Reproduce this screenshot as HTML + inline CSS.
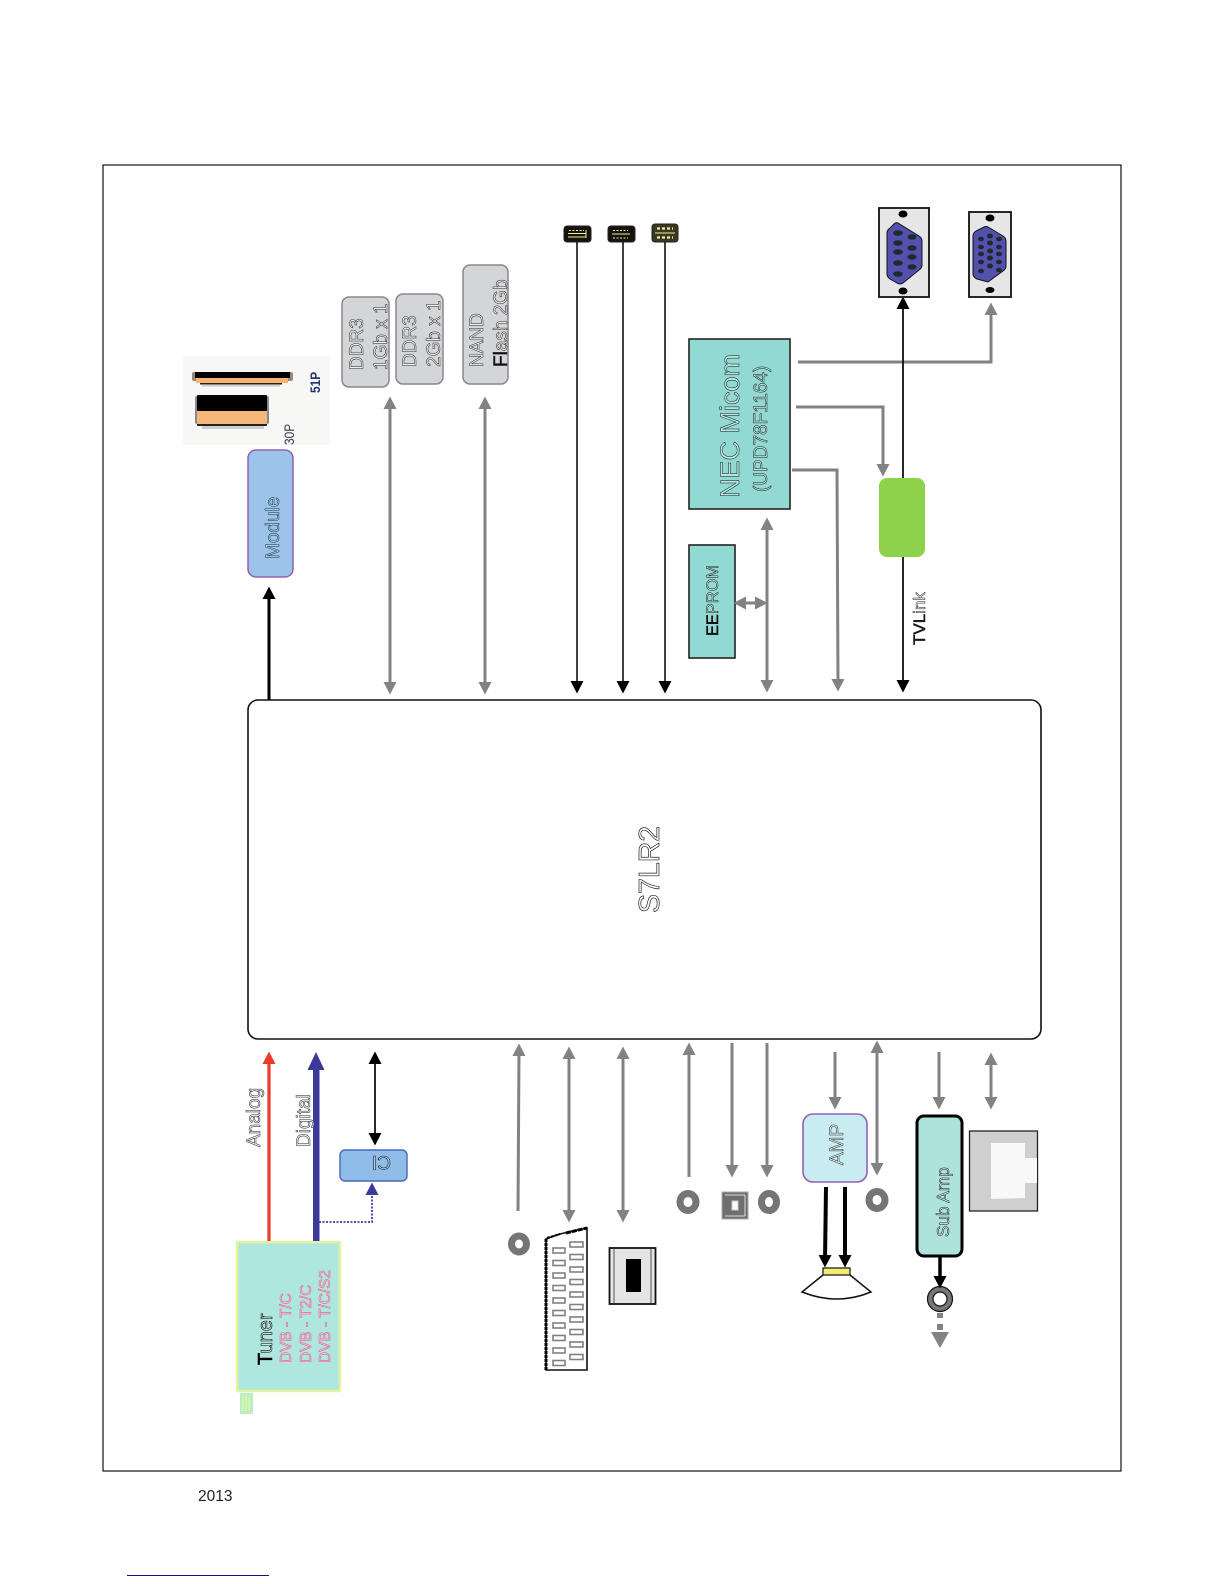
<!DOCTYPE html>
<html><head><meta charset="utf-8"><style>
html,body{margin:0;padding:0;background:#fff}
svg{display:block}
text{font-family:"Liberation Sans",sans-serif}
.o{stroke:#222;stroke-width:.5;fill:#eef0f0}
</style></head><body>
<svg width="1224" height="1584" viewBox="0 0 1224 1584" xmlns="http://www.w3.org/2000/svg">
<defs>
<marker id="g" markerUnits="userSpaceOnUse" markerWidth="13" markerHeight="13" refX="6" refY="6.500" orient="auto-start-reverse"><path d="M0,0L12.500,6.500L0,13z" fill="#808285"/></marker>
<marker id="k" markerUnits="userSpaceOnUse" markerWidth="13" markerHeight="13" refX="6" refY="6.500" orient="auto-start-reverse"><path d="M0,0L12.500,6.500L0,13z" fill="#000"/></marker>
<marker id="r" markerUnits="userSpaceOnUse" markerWidth="13" markerHeight="13" refX="6" refY="6.500" orient="auto"><path d="M0,0L12.500,6.500L0,13z" fill="#ea3a2a"/></marker>
<marker id="b" markerUnits="userSpaceOnUse" markerWidth="13" markerHeight="13" refX="6" refY="6.500" orient="auto"><path d="M0,0L12.500,6.500L0,13z" fill="#3b3a9c"/></marker>
</defs>
<rect x="103" y="165" width="1018" height="1306" fill="#fff" stroke="#111" stroke-width="1.2"/>
<rect x="248" y="700" width="793" height="339" rx="10" fill="#fff" stroke="#111" stroke-width="1.6"/>
<text class="o" transform="translate(659,913) rotate(-90)" font-size="28.5" style="fill:#fff;stroke-width:.7">S7LR2</text>

<!-- module -->
<rect x="183" y="356" width="147" height="89" fill="#f7f7f6"/>
<rect x="192" y="372" width="101" height="9" rx="2" fill="#9a8a70"/>
<rect x="195" y="372" width="95" height="6" fill="#000"/><rect x="196" y="378" width="92" height="5" fill="#f5b56c"/><rect x="200" y="383" width="82" height="1.500" fill="#222"/><rect x="202" y="385" width="78" height="1.500" fill="#ccc"/>
<rect x="195" y="396" width="74" height="28" rx="2" fill="#8a8a8a"/>
<rect x="197" y="395" width="70" height="16" rx="1" fill="#000"/><rect x="197" y="411" width="70" height="13" fill="#f5b778"/><rect x="197" y="424" width="70" height="2" fill="#222"/><rect x="202" y="426" width="62" height="3" fill="#ccc"/>
<text transform="translate(320,393) rotate(-90) scale(.85,1)" font-size="14" font-weight="bold" fill="#27346e">51P</text>
<text transform="translate(294,445) rotate(-90) scale(.85,1)" font-size="14" fill="#333a55">30P</text>
<rect x="248" y="450" width="45" height="127" rx="8" fill="#9cc4ea" stroke="#9060b0" stroke-width="1.5"/>
<text class="o" transform="translate(279,559) rotate(-90)" font-size="19" style="fill:#a8d0f0;stroke:#12303f">Module</text>
<line x1="269" y1="700" x2="269" y2="593" stroke="#000" stroke-width="3" marker-end="url(#k)"/>

<!-- memory -->
<rect x="342" y="297" width="47" height="90" rx="7" fill="#d3d5d8" stroke="#888" stroke-width="1.5"/>
<rect x="396" y="294" width="47" height="90" rx="7" fill="#d3d5d8" stroke="#888" stroke-width="1.5"/>
<rect x="463" y="265" width="45" height="119" rx="7" fill="#d3d5d8" stroke="#888" stroke-width="1.5"/>
<text class="o" transform="translate(363,370) rotate(-90)" font-size="19">DDR3</text>
<text class="o" transform="translate(387,370) rotate(-90)" font-size="19">1Gb x 1</text>
<text class="o" transform="translate(416,367) rotate(-90)" font-size="19">DDR3</text>
<text class="o" transform="translate(440,367) rotate(-90)" font-size="19">2Gb x 1</text>
<text class="o" transform="translate(483,367) rotate(-90)" font-size="19">NAND</text>
<text class="o" transform="translate(507,367) rotate(-90)" font-size="19"><tspan fill="#111">Fl</tspan>ash 2Gb</text>
<line x1="390" y1="403" x2="390" y2="688" stroke="#808285" stroke-width="3" marker-start="url(#g)" marker-end="url(#g)"/>
<line x1="485" y1="403" x2="485" y2="688" stroke="#808285" stroke-width="3" marker-start="url(#g)" marker-end="url(#g)"/>

<!-- USB -->
<g stroke="#f2eea0" stroke-width="1" fill="none">
<rect x="564" y="226" width="27" height="16" rx="3" fill="#15130c" stroke="#222"/>
<path d="M568,233.500h18M568,237h18M586,230v8"/>
<path d="M569,230.500h15" stroke-dasharray="2 1.500"/>
<rect x="608" y="226" width="27" height="16" rx="3" fill="#15130c" stroke="#222"/>
<path d="M612,234h18"/>
<path d="M613,230.500h15M613,238h15" stroke-dasharray="2 1.500"/>
<rect x="652" y="224" width="26" height="18" rx="3" fill="#3a3722" stroke="#222"/>
<path d="M655,233h20"/>
<path d="M657,228.500h16M657,237.500h16" stroke-width="2.200" stroke-dasharray="3 2"/>
</g>
<line x1="577" y1="242" x2="577" y2="687" stroke="#111" stroke-width="1.6" marker-end="url(#k)"/>
<line x1="623" y1="242" x2="623" y2="687" stroke="#111" stroke-width="1.6" marker-end="url(#k)"/>
<line x1="665" y1="242" x2="665" y2="687" stroke="#111" stroke-width="1.6" marker-end="url(#k)"/>

<!-- NEC -->
<rect x="689" y="339" width="101" height="170" fill="#92d9d3" stroke="#222" stroke-width="1.6"/>
<text class="o" transform="translate(739,498) rotate(-90)" font-size="27" style="fill:#b5e8e2;stroke:#111">NEC Micom</text>
<text class="o" transform="translate(767,492) rotate(-90)" font-size="19" style="fill:#b5e8e2;stroke:#111">(UPD78F1164)</text>
<rect x="689" y="545" width="46" height="113" fill="#92d9d3" stroke="#222" stroke-width="1.6"/>
<text class="o" transform="translate(718,636) rotate(-90)" font-size="16.4" style="fill:#b5e8e2;stroke:#111"><tspan fill="#111">EE</tspan>PROM</text>
<line x1="767" y1="524" x2="767" y2="686" stroke="#808285" stroke-width="3" marker-start="url(#g)" marker-end="url(#g)"/>
<line x1="740" y1="603" x2="761" y2="603" stroke="#808285" stroke-width="3" marker-start="url(#g)" marker-end="url(#g)"/>
<polyline points="798,362 991,362 991,309" fill="none" stroke="#808285" stroke-width="3" marker-end="url(#g)"/>
<polyline points="796,407 883,407 883,470" fill="none" stroke="#808285" stroke-width="3" marker-end="url(#g)"/>
<polyline points="792,470 837,470 838,685" fill="none" stroke="#808285" stroke-width="3" marker-end="url(#g)"/>
<line x1="903" y1="686" x2="903" y2="303" stroke="#111" stroke-width="1.8" marker-start="url(#k)" marker-end="url(#k)"/>
<rect x="879" y="478" width="46" height="79" rx="8" fill="#8ed24c"/>
<text class="o" transform="translate(925,645) rotate(-90)" font-size="17"><tspan fill="#111">TVL</tspan>ink</text>

<!-- D-sub 1 -->
<rect x="879" y="208" width="50" height="89" fill="#e6e6e6" stroke="#111" stroke-width="1.8"/>
<ellipse cx="903" cy="214" rx="4.500" ry="3.500"/><ellipse cx="903" cy="291" rx="4.500" ry="3.500"/>
<path d="M898,223L919,236Q922,238 922,241V265Q922,268 919,270L903,283Q900,285 897,283L890,279Q887,277 887,274V233Q887,230 890,228L894,224Q896,222 898,223Z" fill="#5350ae" stroke="#111" stroke-width="1"/>
<g fill="#1f2a30"><ellipse cx="898" cy="233" rx="4.800" ry="2.800"/><ellipse cx="898" cy="243" rx="4.800" ry="2.800"/><ellipse cx="898" cy="252" rx="4.800" ry="2.800"/><ellipse cx="898" cy="263" rx="4.800" ry="2.800"/><ellipse cx="898" cy="274" rx="4.800" ry="2.800"/><ellipse cx="912" cy="237" rx="4.500" ry="2.800"/><ellipse cx="912" cy="248" rx="4.500" ry="2.800"/><ellipse cx="912" cy="257" rx="4.500" ry="2.800"/><ellipse cx="912" cy="267" rx="4.500" ry="2.800"/></g>
<!-- D-sub 2 -->
<rect x="969" y="212" width="42" height="85" fill="#e6e6e6" stroke="#111" stroke-width="1.8"/>
<ellipse cx="990" cy="218" rx="4.500" ry="3.500"/><ellipse cx="990" cy="290" rx="4.500" ry="3"/>
<path d="M988,227L1003,236Q1006,238 1006,241V266Q1006,269 1003,271L988,282L977,279Q973,277 973,274V236Q973,233 976,231L984,227Q986,226 988,227Z" fill="#5350ae" stroke="#111" stroke-width="1"/>
<g fill="#1f2a30"><ellipse cx="981" cy="239" rx="3" ry="2.300"/><ellipse cx="981" cy="247" rx="3" ry="2.300"/><ellipse cx="981" cy="254" rx="3" ry="2.300"/><ellipse cx="981" cy="262" rx="3" ry="2.300"/><ellipse cx="981" cy="271" rx="3" ry="2.300"/><ellipse cx="990" cy="236" rx="3" ry="2.500"/><ellipse cx="990" cy="243" rx="3" ry="2.500"/><ellipse cx="990" cy="251" rx="3" ry="2.500"/><ellipse cx="990" cy="258" rx="3" ry="2.500"/><ellipse cx="990" cy="266" rx="3" ry="2.500"/><ellipse cx="999" cy="239" rx="3" ry="2.300"/><ellipse cx="999" cy="247" rx="3" ry="2.300"/><ellipse cx="999" cy="254" rx="3" ry="2.300"/><ellipse cx="999" cy="262" rx="3" ry="2.300"/><ellipse cx="999" cy="270" rx="3" ry="2.300"/></g>

<!-- tuner -->
<rect x="237" y="1242" width="103" height="149" fill="#aee6e0" stroke="#e6f29c" stroke-width="2.500"/>
<rect x="240" y="1393" width="13" height="21" fill="#b9efc2"/>
<path d="M243,1396v15M246,1396v15M249,1396v15" stroke="#eaf59c" stroke-width="1.200"/>
<text transform="translate(272,1365) rotate(-90)" font-size="20" fill="#c8e8e0" stroke="#000" stroke-width=".55"><tspan fill="#000">T</tspan>uner</text>
<text transform="translate(291,1363) rotate(-90)" font-size="15.4" fill="#f4cbd8" stroke="#dd6088" stroke-width=".55">DVB - T/C</text>
<text transform="translate(311,1363) rotate(-90)" font-size="15.4" fill="#f4cbd8" stroke="#dd6088" stroke-width=".55">DVB - T2/C</text>
<text transform="translate(330,1363) rotate(-90)" font-size="15.4" fill="#f4cbd8" stroke="#dd6088" stroke-width=".55">DVB - T/C/S2</text>
<line x1="269" y1="1241" x2="269" y2="1058" stroke="#ea3a2a" stroke-width="3.200" marker-end="url(#r)"/>
<rect x="313" y="1068" width="6.500" height="173" fill="#3b3a9c"/>
<polygon points="316,1052 307.500,1070 324.500,1070" fill="#3b3a9c"/>
<text class="o" transform="translate(260,1147) rotate(-90)" font-size="19">Analog</text>
<text class="o" transform="translate(310,1147) rotate(-90)" font-size="19">Digital</text>
<line x1="375" y1="1058" x2="375" y2="1139" stroke="#111" stroke-width="1.800" marker-start="url(#k)" marker-end="url(#k)"/>
<rect x="340" y="1150" width="67" height="31" rx="5" fill="#8fbce8" stroke="#4668b8" stroke-width="1.400"/>
<text transform="translate(391,1156) rotate(180)" font-size="19" fill="#a8d0f0" stroke="#111" stroke-width=".55">CI</text>
<polyline points="319,1222 372,1222 372,1189" fill="none" stroke="#3b3a9c" stroke-width="1.800" stroke-dasharray="2 1.500" marker-end="url(#b)"/>

<!-- AV arrows -->
<line x1="518" y1="1211" x2="519" y2="1050" stroke="#808285" stroke-width="3" marker-end="url(#g)"/>
<line x1="569" y1="1053" x2="569" y2="1216" stroke="#808285" stroke-width="3" marker-start="url(#g)" marker-end="url(#g)"/>
<line x1="623" y1="1053" x2="623" y2="1216" stroke="#808285" stroke-width="3" marker-start="url(#g)" marker-end="url(#g)"/>
<line x1="689" y1="1177" x2="689" y2="1049" stroke="#808285" stroke-width="3" marker-end="url(#g)"/>
<line x1="732" y1="1043" x2="732" y2="1171" stroke="#808285" stroke-width="3" marker-end="url(#g)"/>
<line x1="767" y1="1043" x2="767" y2="1171" stroke="#808285" stroke-width="3" marker-end="url(#g)"/>
<g fill="#fff" stroke="#757575" stroke-width="7"><ellipse cx="519" cy="1244" rx="7.500" ry="8"/><ellipse cx="688" cy="1202" rx="8" ry="8.500"/><ellipse cx="769" cy="1202" rx="7.500" ry="8.500"/></g>
<rect x="722" y="1192" width="26" height="27" fill="#6f6f6f" stroke="#aaa"/>
<path d="M725,1195h20M725,1216h20M745,1195v21" stroke="#ddd" fill="none"/>
<rect x="732" y="1201" width="6" height="9" fill="#fff" stroke="#ccc"/>

<!-- SCART -->
<path d="M546,1239L560,1234L587,1228V1370H546Z" fill="#fff" stroke="#111" stroke-width="1.600"/>
<path d="M546,1239V1370" stroke="#000" stroke-width="3" stroke-dasharray="3 1" fill="none"/>
<path d="M547,1238L560,1234" stroke="#000" stroke-width="2" stroke-dasharray="3 1" fill="none"/>
<path d="M566,1233L587,1228" stroke="#000" stroke-width="3" stroke-dasharray="5 1" fill="none"/>
<g fill="#fff" stroke="#808080" stroke-width="1.600">
<rect x="553" y="1248" width="12" height="5"/><rect x="553" y="1260.500" width="12" height="5"/><rect x="553" y="1273" width="12" height="5"/><rect x="553" y="1285.500" width="12" height="5"/><rect x="553" y="1298" width="12" height="5"/><rect x="553" y="1310.500" width="12" height="5"/><rect x="553" y="1323" width="12" height="5"/><rect x="553" y="1335.500" width="12" height="5"/><rect x="553" y="1348" width="12" height="5"/><rect x="553" y="1360.500" width="12" height="5"/>
<rect x="570" y="1242" width="13" height="5"/><rect x="570" y="1254.500" width="13" height="5"/><rect x="570" y="1267" width="13" height="5"/><rect x="570" y="1279.500" width="13" height="5"/><rect x="570" y="1292" width="13" height="5"/><rect x="570" y="1304.500" width="13" height="5"/><rect x="570" y="1317" width="13" height="5"/><rect x="570" y="1329.500" width="13" height="5"/><rect x="570" y="1342" width="13" height="5"/><rect x="570" y="1354.500" width="13" height="5"/>
</g>
<!-- component -->
<rect x="609.500" y="1248" width="46" height="56" fill="#e4e4e4" stroke="#111" stroke-width="1.800"/>
<path d="M614,1249v54M651,1249v54" stroke="#555" stroke-width="1" fill="none"/>
<rect x="626" y="1259" width="15" height="33" fill="#000"/>

<!-- AMP -->
<line x1="835" y1="1052" x2="835" y2="1103" stroke="#808285" stroke-width="3" marker-end="url(#g)"/>
<rect x="803" y="1114" width="64" height="68" rx="10" fill="#c9ecf2" stroke="#9060b8" stroke-width="1.600"/>
<text class="o" transform="translate(843,1165) rotate(-90)" font-size="19" style="fill:#dff4f8">AMP</text>
<line x1="877" y1="1047" x2="877" y2="1169" stroke="#808285" stroke-width="3" marker-start="url(#g)" marker-end="url(#g)"/>
<ellipse cx="877" cy="1200" rx="8" ry="8.500" fill="#fff" stroke="#757575" stroke-width="7"/>
<line x1="826" y1="1187" x2="825" y2="1261" stroke="#000" stroke-width="4" marker-end="url(#k)"/>
<line x1="845" y1="1187" x2="845" y2="1261" stroke="#000" stroke-width="4" marker-end="url(#k)"/>
<path d="M823,1275L802,1292Q837,1306 871,1292L850,1275" fill="#fff" stroke="#111" stroke-width="1.500"/>
<rect x="823" y="1268" width="27" height="7" fill="#f4ee70" stroke="#111" stroke-width="1.200"/>

<!-- Sub amp -->
<line x1="939" y1="1052" x2="939" y2="1103" stroke="#808285" stroke-width="3" marker-end="url(#g)"/>
<line x1="991" y1="1059" x2="991" y2="1103" stroke="#808285" stroke-width="3" marker-start="url(#g)" marker-end="url(#g)"/>
<rect x="917" y="1116" width="45" height="140" rx="7" fill="#aee3dc" stroke="#000" stroke-width="3"/>
<text class="o" transform="translate(949,1237) rotate(-90)" font-size="17.200" style="fill:#c8efe9;stroke:#111">Sub Amp</text>
<circle cx="940" cy="1299" r="10" fill="#fff" stroke="#777" stroke-width="5"/>
<circle cx="940" cy="1299" r="12.500" fill="none" stroke="#111" stroke-width="1.200"/>
<circle cx="940" cy="1299" r="7" fill="none" stroke="#111" stroke-width="1.200"/>
<line x1="940" y1="1256" x2="940" y2="1282" stroke="#000" stroke-width="3.500" marker-end="url(#k)"/>
<rect x="937" y="1313" width="6" height="5" fill="#808285"/>
<rect x="937" y="1324" width="6" height="6" fill="#808285"/>
<polygon points="931,1332 949,1332 940,1348" fill="#808285"/>
<rect x="969.500" y="1131" width="68" height="80" fill="#cfcfcf" stroke="#222" stroke-width="1.300"/>
<polygon points="991,1143 1025,1143 1025,1158 1037,1158 1037,1183 1025,1183 1025,1198 991,1199" fill="#f8f8f8"/>

<!-- footer -->
<text x="198" y="1501" font-size="15.500" fill="#222">2013</text>
<rect x="127" y="1575" width="142" height="1" fill="#12128c"/>
</svg>
</body></html>
